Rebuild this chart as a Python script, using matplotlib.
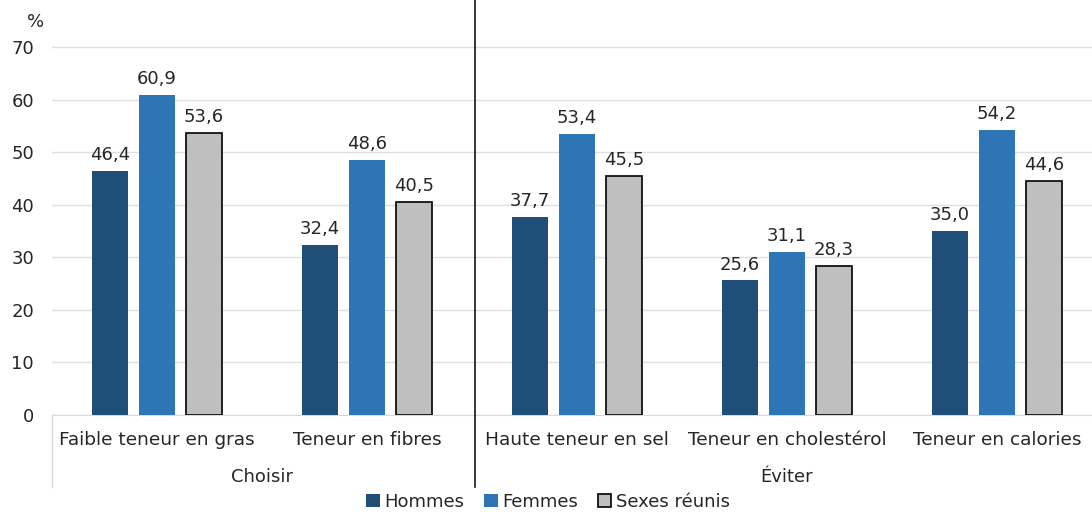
import matplotlib.pyplot as plt
import numpy as np

categories = ['Faible teneur en gras', 'Teneur en fibres', 'Haute teneur en sel',
              'Teneur en cholestérol', 'Teneur en calories']
groups = ['Choisir', 'Éviter']
group_sizes = [2, 3]
series = ['Hommes', 'Femmes', 'Sexes réunis']
hommes = [46.4, 32.4, 37.7, 25.6, 35.0]
femmes = [60.9, 48.6, 53.4, 31.1, 54.2]
reunis = [53.6, 40.5, 45.5, 28.3, 44.6]

colors = ['#1F4E79', '#2E75B6', '#BFBFBF']
edges = ['none', 'none', '#000000']

plt.rcParams['font.family'] = ['DejaVu Sans']
fig = plt.figure(figsize=(10.92, 5.16), dpi=100)
ax = fig.add_axes([52 / 1092, 101 / 516, 1 - 52 / 1092, 415 / 516])

x = np.arange(len(categories))
w = 0.171
step = 0.224
for i, (vals, name) in enumerate(zip([hommes, femmes, reunis], series)):
    bars = ax.bar(x + (i - 1) * step, vals, w, color=colors[i],
                  edgecolor=edges[i], linewidth=1.2 if i == 2 else 0,
                  label=name, zorder=3)
    for b, v in zip(bars, vals):
        ax.text(b.get_x() + b.get_width() / 2, v + 1.3, f'{v:.1f}'.replace('.', ','),
                ha='center', va='bottom', fontsize=13, color='#262626')

ax.set_xlim(-0.5, -0.5 + 1040 / 210)
ax.set_ylim(0, 415 / (368 / 70))
ax.set_yticks(range(0, 71, 10))
ax.set_yticklabels([str(t) for t in range(0, 71, 10)], fontsize=13, color='#262626')
ax.tick_params(axis='y', length=0, pad=13)
ax.set_xticks([])
ax.grid(axis='y', color='#E0E0E0', lw=1, zorder=0)
for s in ['top', 'right', 'left']:
    ax.spines[s].set_visible(False)
ax.spines['bottom'].set_color('#D9D9D9')
ax.text(-0.016, 0.925, '%', transform=ax.transAxes, ha='center', va='bottom',
        fontsize=13, color='#262626')

# category and group labels
for xi, c in zip(x, categories):
    ax.text(xi, -25 / 5.257, c, ha='center', va='center', fontsize=13.3, color='#262626')
start = 0
for g, n in zip(groups, group_sizes):
    ax.text(start + (n - 1) / 2, -62 / 5.257, g, ha='center', va='center',
            fontsize=13, color='#262626')
    start += n

# left border and divider below the axis
ax.plot([-0.5, -0.5], [0, -72 / 5.257], color='#D9D9D9', lw=1, clip_on=False)
ax.plot([1.515, 1.515], [-72 / 5.257, 415 / 5.257], color='#000000', lw=1.1,
        clip_on=False, zorder=4)

handles, labels = ax.get_legend_handles_labels()
fig.legend(handles, labels, loc='center', bbox_to_anchor=(548 / 1092, 1 - 502 / 516),
           ncol=3, frameon=False, fontsize=13, handlelength=0.75, handleheight=0.75,
           handletextpad=0.25, columnspacing=1.1, labelcolor='#262626')

plt.savefig('out.png', dpi=100)
